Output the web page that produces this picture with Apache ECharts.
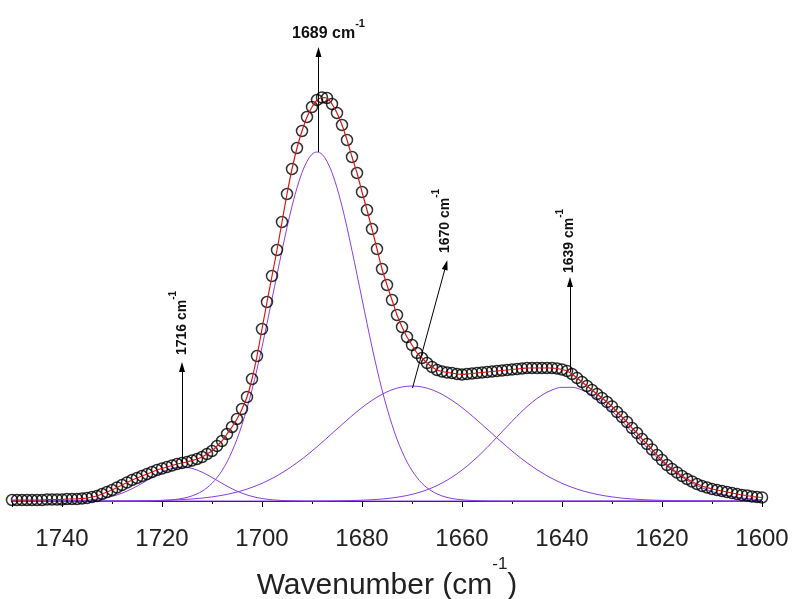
<!DOCTYPE html>
<html><head><meta charset="utf-8">
<script src="https://cdn.jsdelivr.net/npm/echarts@6/dist/echarts.min.js"></script>
<style>html,body{margin:0;padding:0;background:#fff}#c{width:794px;height:599px}</style>
</head><body><div id="c"></div>
<script>
// ---- data ----
const wavenumbers = [1750,1749,1748,1747,1746,1745,1744,1743,1742,1741,1740,1739,1738,1737,1736,1735,1734,1733,1732,1731,1730,1729,1728,1727,1726,1725,1724,1723,1722,1721,1720,1719,1718,1717,1716,1715,1714,1713,1712,1711,1710,1709,1708,1707,1706,1705,1704,1703,1702,1701,1700,1699,1698,1697,1696,1695,1694,1693,1692,1691,1690,1689,1688,1687,1686,1685,1684,1683,1682,1681,1680,1679,1678,1677,1676,1675,1674,1673,1672,1671,1670,1669,1668,1667,1666,1665,1664,1663,1662,1661,1660,1659,1658,1657,1656,1655,1654,1653,1652,1651,1650,1649,1648,1647,1646,1645,1644,1643,1642,1641,1640,1639,1638,1637,1636,1635,1634,1633,1632,1631,1630,1629,1628,1627,1626,1625,1624,1623,1622,1621,1620,1619,1618,1617,1616,1615,1614,1613,1612,1611,1610,1609,1608,1607,1606,1605,1604,1603,1602,1601,1600];
const absorbance = [0.25,0.25,0.25,0.25,0.25,0.25,0.25,0.38,0.38,0.38,0.38,0.5,0.5,0.5,0.63,0.75,1.0,1.25,1.75,2.25,2.75,3.38,4.0,4.63,5.25,5.75,6.25,6.75,7.25,7.75,8.13,8.5,8.88,9.25,9.5,9.75,10.13,10.5,11.0,11.75,12.5,13.75,15.0,16.75,18.5,20.5,23.0,26.0,30.5,36.25,43.0,49.75,56.25,62.75,69.75,76.75,83.0,88.25,92.5,96.0,98.5,100.25,100.88,100.75,99.25,97.0,94.0,90.25,86.0,82.0,77.25,72.75,68.0,63.0,58.0,54.0,50.25,46.5,43.5,41.0,39.0,37.0,35.75,34.5,33.5,32.75,32.38,32.13,32.0,31.75,31.63,31.75,31.88,32.0,32.13,32.25,32.38,32.5,32.63,32.75,32.88,33.0,33.13,33.25,33.25,33.25,33.25,33.25,33.25,33.13,32.88,32.5,31.75,30.75,29.75,28.75,27.75,26.75,25.75,24.75,23.63,22.25,21.0,19.75,18.25,17.0,15.5,14.25,12.88,11.5,10.25,9.0,8.0,7.13,6.25,5.5,4.88,4.25,3.75,3.38,3.0,2.75,2.5,2.25,2.0,1.75,1.5,1.38,1.13,1.0,0.88];

// main band 1689 on the 1 cm-1 grid (same x as the data)
const band1689 = [0,0,0,0,0,0,0,0,0,0,0,0,0,0,0,0,0,0,0,0,0,0,0,0,0,0.01,0.02,0.03,0.05,0.09,0.13,0.20,0.30,0.44,0.63,0.90,1.27,1.78,2.44,3.31,4.42,5.84,7.6,9.75,12.4,15.45,19.1,23.2,27.8,32.95,38.5,44.4,50.5,56.6,62.6,68.4,73.7,78.3,82.1,84.9,86.7,87.25,86.7,84.9,82.1,78.3,73.7,68.4,62.6,56.6,50.5,44.4,38.5,32.95,27.8,23.2,19.1,15.45,12.4,9.75,7.6,5.84,4.42,3.31,2.44,1.78,1.27,0.90,0.63,0.44,0.30,0.20,0.13,0.09,0.05,0.03,0.02,0.01,0,0,0,0,0,0,0,0,0,0,0,0,0,0,0,0,0,0,0,0,0,0,0,0,0,0,0,0,0,0,0,0,0,0,0,0,0,0,0,0,0,0,0,0,0,0,0,0,0,0,0,0,0];

// other bands on a 2 cm-1 grid
const compWavenumbers = [1750,1748,1746,1744,1742,1740,1738,1736,1734,1732,1730,1728,1726,1724,1722,1720,1718,1716,1714,1712,1710,1708,1706,1704,1702,1700,1698,1696,1694,1692,1690,1688,1686,1684,1682,1680,1678,1676,1674,1672,1670,1668,1666,1664,1662,1660,1658,1656,1654,1652,1650,1648,1646,1644,1642,1640,1638,1636,1634,1632,1630,1628,1626,1624,1622,1620,1618,1616,1614,1612,1610,1608,1606,1604,1602,1600];
const band1716 = [0,0,0,0,0,0.02,0.06,0.14,0.31,0.62,1.15,1.96,3.06,4.42,5.89,7.22,8.16,8.5,8.16,7.22,5.89,4.42,3.06,1.96,1.15,0.62,0.31,0.14,0.06,0.02,0,0,0,0,0,0,0,0,0,0,0,0,0,0,0,0,0,0,0,0,0,0,0,0,0,0,0,0,0,0,0,0,0,0,0,0,0,0,0,0,0,0,0,0,0,0];
const band1670 = [0,0,0,0,0,0,0,0,0,0,0.02,0.03,0.04,0.07,0.10,0.16,0.24,0.35,0.51,0.73,1.03,1.42,1.94,2.59,3.42,4.42,5.63,7.04,8.68,10.49,12.50,14.65,16.88,19.12,21.30,23.35,25.16,26.67,27.81,28.51,28.75,28.51,27.81,26.67,25.16,23.35,21.30,19.12,16.88,14.65,12.50,10.49,8.68,7.04,5.63,4.42,3.42,2.59,1.94,1.42,1.03,0.73,0.51,0.35,0.24,0.16,0.10,0.07,0.04,0.03,0.02,0,0,0,0,0];
const band1639 = [0,0,0,0,0,0,0,0,0,0,0,0,0,0,0,0,0,0,0,0,0,0,0,0,0,0,0,0,0,0,0,0.02,0.04,0.07,0.12,0.20,0.32,0.50,0.76,1.14,1.66,2.37,3.30,4.49,5.96,7.73,9.79,12.12,14.65,17.29,19.93,22.43,24.66,26.47,27.75,28.42,28.42,27.75,26.47,24.66,22.43,19.93,17.29,14.65,12.12,9.79,7.73,5.96,4.49,3.30,2.37,1.66,1.14,0.76,0.50,0.32];

// annotations (data coordinates)
const peakLabels = ['1716', '1689', '1670', '1639'];
const arrowFrom = [[1716, 9.5], [1688.7, 87.25], [1669.9, 28.25], [1638.4, 32.25]];
const arrowTo = [[1716, 33.5], [1688.7, 112.25], [1663.2, 59], [1638.4, 54.75]];
const labelAt = [[1715.9, 44.5], [1686.7, 116.9], [1663.4, 70], [1638.6, 65]];
const labelVertical = [true, false, true, true];

// ---- chart ----
const FONT = 'Arial, "Liberation Sans", sans-serif';
const PURPLE = '#8a3ee6';
const pairs = (xs, ys) => xs.map((x, i) => [x, ys[i]]);

const compSeries = [
  [compWavenumbers, band1716], [wavenumbers, band1689], [compWavenumbers, band1670], [compWavenumbers, band1639]
].map(([xs, b]) => ({
  type: 'line', data: pairs(xs, b), showSymbol: false, smooth: 0.35,
  lineStyle: { color: PURPLE, width: 1 }, silent: true, z: 2
}));

const option = {
  animation: false,
  backgroundColor: '#fff',
  grid: { left: 12, right: 32, top: 5, bottom: 87, containLabel: false, outerBoundsMode: 'none' },
  xAxis: {
    type: 'value', min: 1600, max: 1750, interval: 20, inverse: true,
    axisLine: { show: true, lineStyle: { color: '#000', width: 1 } },
    axisTick: { show: true, length: 6, lineStyle: { color: '#000', width: 1 } },
    minorTick: { show: true, splitNumber: 2, length: 3, lineStyle: { color: '#000', width: 1 } },
    splitLine: { show: false }, minorSplitLine: { show: false },
    axisLabel: { fontSize: 24, color: '#222', margin: 15, fontFamily: FONT, showMaxLabel: false,
      formatter: (v) => String(v) },
    name: '{m|Wavenumber (cm}{s|-1}{m|)}',
    nameLocation: 'middle', nameGap: 44,
    nameTextStyle: {
      rich: {
        m: { fontSize: 30, lineHeight: 60, verticalAlign: 'middle', color: '#222', fontFamily: FONT },
        s: { fontSize: 17, lineHeight: 17, verticalAlign: 'top', color: '#222', fontFamily: FONT }
      }
    }
  },
  yAxis: { type: 'value', min: -2.75, max: 124, show: false, splitLine: { show: false } },
  series: compSeries.concat([
    {
      type: 'scatter', data: pairs(wavenumbers, absorbance), symbol: 'circle', symbolSize: 11,
      itemStyle: { color: 'rgba(0,0,0,0)', borderColor: '#000', borderWidth: 1.5 }, silent: true, z: 3
    },
    {
      type: 'line', data: pairs(wavenumbers, absorbance), showSymbol: false, smooth: 0.2,
      lineStyle: { color: '#d81818', width: 1.2 }, silent: true, z: 4,
      markLine: {
        silent: true, symbol: ['none', 'triangle'], symbolSize: [6, 10],
        label: { show: false },
        lineStyle: { color: '#000', width: 1, type: 'solid' },
        emphasis: { disabled: true },
        data: arrowFrom.map((f, i) => [{ coord: f }, { coord: arrowTo[i] }])
      }
    }
  ])
};

const chart = echarts.init(document.getElementById('c'), null, { renderer: 'canvas' });
chart.setOption(option);

const graphics = peakLabels.map((t, i) => {
  const p = chart.convertToPixel({ xAxisIndex: 0, yAxisIndex: 0 }, labelAt[i]);
  const v = labelVertical[i];
  return {
    type: 'text', x: p[0], y: p[1], rotation: v ? Math.PI / 2 : 0, silent: true, z: 10,
    style: {
      text: '{m|' + t + ' cm}{s|-1}', align: 'center', verticalAlign: 'middle',
      rich: {
        m: { fontSize: v ? 14 : 16, fontWeight: 'bold', fontFamily: FONT, lineHeight: v ? 28 : 30, verticalAlign: 'middle', fill: '#111' },
        s: { fontSize: v ? 10 : 11, fontWeight: 'bold', fontFamily: FONT, lineHeight: v ? 10 : 11, verticalAlign: 'top', fill: '#111' }
      }
    }
  };
});
chart.setOption({ graphic: graphics });
</script>
</body></html>
